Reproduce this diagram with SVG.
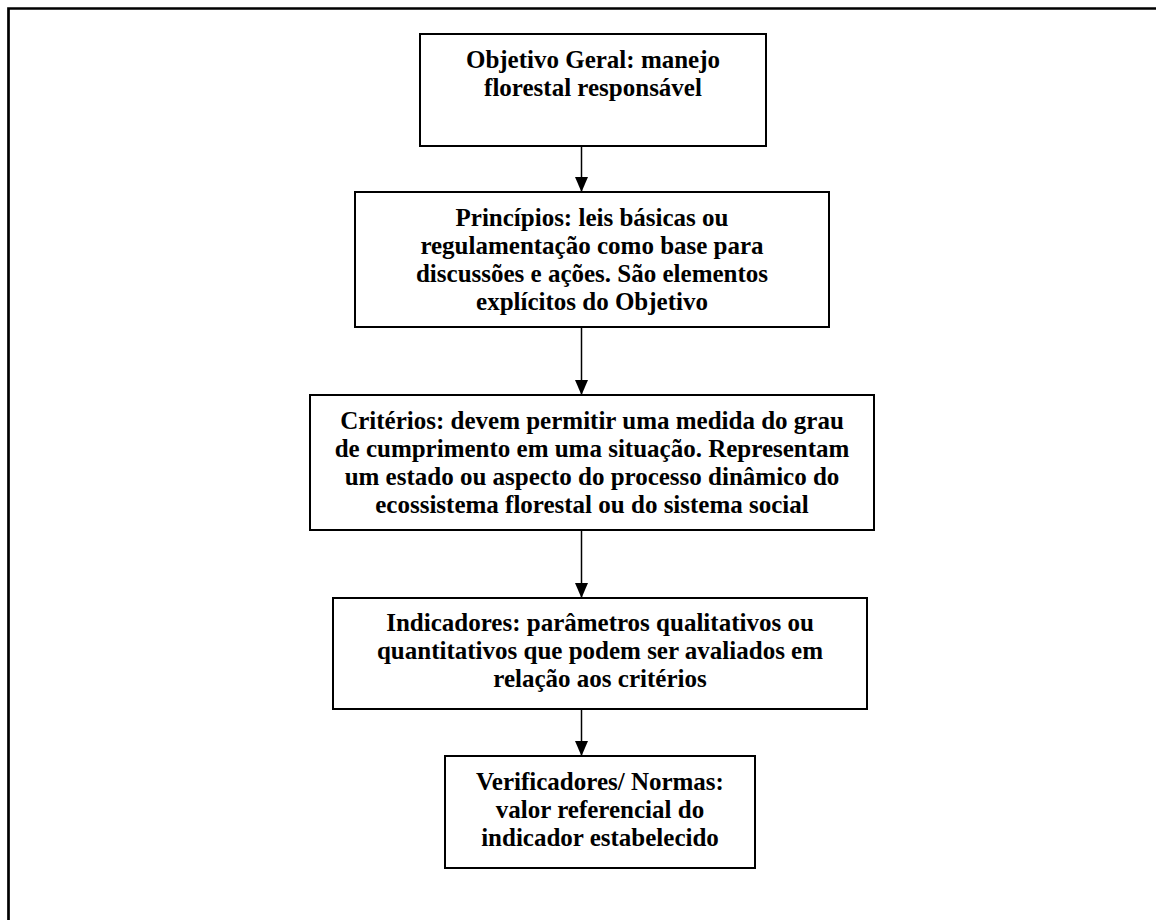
<svg xmlns="http://www.w3.org/2000/svg" width="1156" height="920" viewBox="0 0 1156 920">
<style>
.box{fill:#fff;stroke:#000;stroke-width:2}
.t{font-family:"Liberation Serif","Times New Roman",serif;font-weight:bold;font-size:25px;fill:#000;text-anchor:middle}
.c{stroke:#000;stroke-width:1.5;fill:none}
.frame{stroke:#000;stroke-width:2.7;fill:none}
</style>
<defs>
<marker id="ah" viewBox="0 0 15 13" refX="15" refY="6.5" markerWidth="15" markerHeight="13" markerUnits="userSpaceOnUse" orient="auto">
<path d="M0,0 L15,6.5 L0,13 Z" fill="#000"/>
</marker>
</defs>
<rect width="1156" height="920" fill="#fff"/>
<path class="frame" d="M8.5,920 V8.5 H1156"/>
<g id="connectors">
<line class="c" x1="581.5" y1="146" x2="581.5" y2="192" marker-end="url(#ah)"/>
<line class="c" x1="581.5" y1="327" x2="581.5" y2="395" marker-end="url(#ah)"/>
<line class="c" x1="581.5" y1="530" x2="581.5" y2="598" marker-end="url(#ah)"/>
<line class="c" x1="581.5" y1="709" x2="581.5" y2="756" marker-end="url(#ah)"/>
</g>
<g id="n1">
<rect class="box" x="420" y="34" width="346" height="112"/>
<text class="t" x="593" y="67.5">Objetivo Geral: manejo</text>
<text class="t" x="593" y="96">florestal responsável</text>
</g>
<g id="n2">
<rect class="box" x="355" y="192" width="474" height="135"/>
<text class="t" x="592" y="225.5">Princípios: leis básicas ou</text>
<text class="t" x="592" y="253.5">regulamentação como base para</text>
<text class="t" x="592" y="281.5">discussões e ações. São elementos</text>
<text class="t" x="592" y="309.5">explícitos do Objetivo</text>
</g>
<g id="n3">
<rect class="box" x="310" y="395" width="564" height="135"/>
<text class="t" x="592" y="428.5">Critérios: devem permitir uma medida do grau</text>
<text class="t" x="592" y="456.5">de cumprimento em uma situação. Representam</text>
<text class="t" x="592" y="484.5">um estado ou aspecto do processo dinâmico do</text>
<text class="t" x="592" y="512.5">ecossistema florestal ou do sistema social</text>
</g>
<g id="n4">
<rect class="box" x="333" y="598" width="534" height="111"/>
<text class="t" x="600" y="631">Indicadores: parâmetros qualitativos ou</text>
<text class="t" x="600" y="659">quantitativos que podem ser avaliados em</text>
<text class="t" x="600" y="687">relação aos critérios</text>
</g>
<g id="n5">
<rect class="box" x="445" y="756" width="310" height="112"/>
<text class="t" x="600" y="789.5">Verificadores/ Normas:</text>
<text class="t" x="600" y="817.5">valor referencial do</text>
<text class="t" x="600" y="845.5">indicador estabelecido</text>
</g>
</svg>
